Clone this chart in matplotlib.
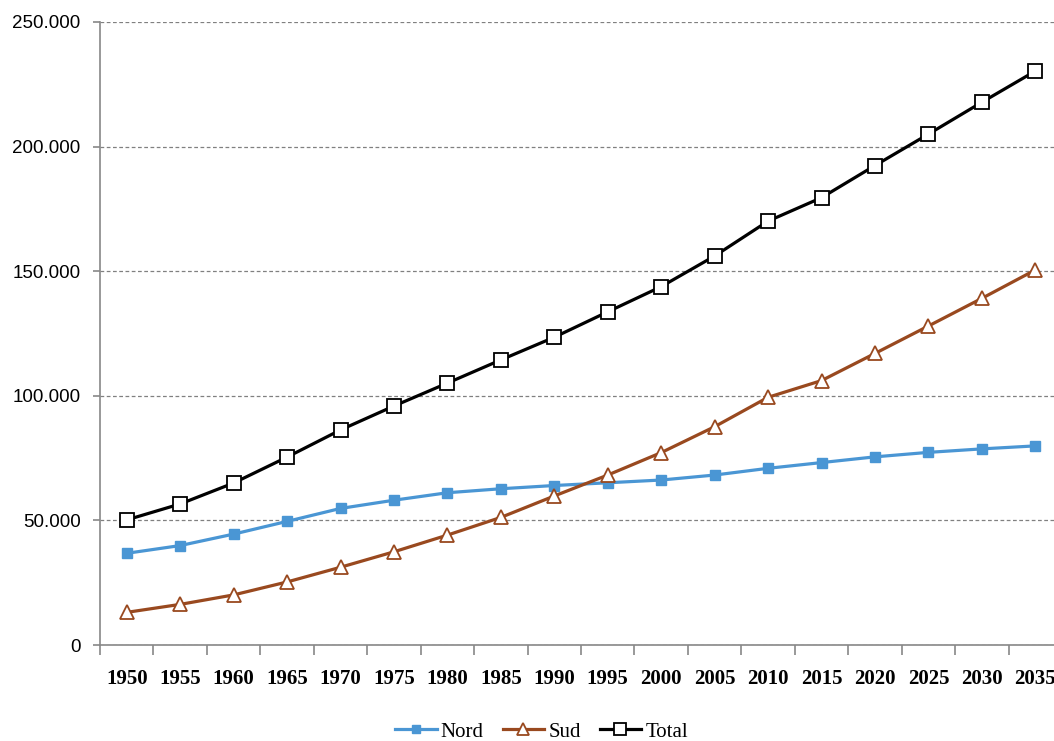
import matplotlib
matplotlib.use("Agg")
import matplotlib.pyplot as plt
import numpy as np
from matplotlib.ticker import FuncFormatter

plt.rcParams['font.family'] = ['Liberation Serif', 'DejaVu Serif']

years = ['1950', '1955', '1960', '1965', '1970', '1975', '1980', '1985', '1990',
         '1995', '2000', '2005', '2010', '2015', '2020', '2025', '2030', '2035']
nord = [36800, 39900, 44500, 49600, 54800, 58100, 61100, 62700, 64000,
        65100, 66200, 68200, 70900, 73200, 75500, 77300, 78700, 79900]
sud = [13100, 16300, 20100, 25300, 31200, 37400, 44100, 51200, 59800,
       68200, 77200, 87600, 99400, 106100, 117000, 128000, 139100, 150500]
total = [50200, 56600, 65000, 75400, 86300, 95900, 105100, 114400, 123500,
         133700, 143800, 156100, 170100, 179500, 192400, 205000, 217800, 230300]

fig = plt.figure(figsize=(10.54, 7.41), dpi=100)
ax = fig.add_axes([100/1054, 96/741, 962/1054, 623/741])

x = np.arange(len(years))
ax.plot(x, nord, color='#4A96D4', lw=2.3, marker='s', ms=7.5,
        mfc='#4A96D4', mec='#4A96D4', label='Nord', zorder=3)
ax.plot(x, sud, color='#99491F', lw=2.3, marker='^', ms=10,
        mfc='white', mec='#99491F', mew=1.3, label='Sud', zorder=3)
ax.plot(x, total, color='black', lw=2.3, marker='s', ms=10,
        mfc='white', mec='black', mew=1.3, label='Total', zorder=4)

ax.set_xlim(-0.5, len(years) - 0.5)
ax.set_ylim(0, 250000)
ax.set_yticks(range(0, 250001, 50000))
ax.yaxis.set_major_formatter(FuncFormatter(lambda v, p: f"{int(v):,}".replace(',', '.')))
ax.set_xticks(x)
ax.set_xticklabels(years, fontweight='bold', fontsize=15)
ax.set_xticks(np.arange(-0.5, len(years)), minor=True)
ax.tick_params(axis='x', which='major', length=0, pad=17)
ax.tick_params(axis='x', which='minor', length=7, color='#888888', width=1.2)
ax.tick_params(axis='y', length=5, color='#888888', width=1.2, labelsize=13.5, pad=9)
for lab in ax.get_yticklabels():
    lab.set_fontfamily(['Liberation Sans', 'DejaVu Sans'])

ax.grid(axis='y', color='#808080', ls=(0, (3, 2)), lw=0.9)
ax.spines['top'].set_visible(False)
ax.spines['right'].set_visible(False)
ax.spines['left'].set_color('#888888')
ax.spines['bottom'].set_color('#888888')
ax.spines['left'].set_linewidth(1.2)
ax.spines['bottom'].set_linewidth(1.2)

ax.legend(loc='center', bbox_to_anchor=(0.459, -0.1396), ncol=3, frameon=False,
          fontsize=15, handlelength=2.0, columnspacing=0.9, handletextpad=0.2,
          markerscale=0.8)

fig.savefig('out.png', dpi=100)
